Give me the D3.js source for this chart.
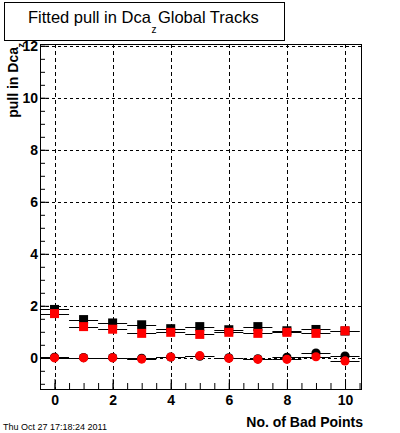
<!DOCTYPE html>
<html>
<head>
<meta charset="utf-8">
<script src="https://cdn.jsdelivr.net/npm/d3@7"></script>
<style>
  body { margin: 0; background: white; }
  svg { display: block; font-family: "Liberation Sans", Arial, sans-serif; }
</style>
</head>
<body>
<div id="canvas"></div>
<script>
"use strict"

// DATA
let badPoints = [0, 1, 2, 3, 4, 5, 6, 7, 8, 9, 10];
let blackSquares = [1.86, 1.47, 1.34, 1.27, 1.12, 1.20, 1.08, 1.20, 1.04, 1.09, 1.03];
let redSquares = [1.70, 1.20, 1.10, 0.94, 0.98, 0.90, 0.98, 0.94, 0.98, 0.94, 1.04];
let blackCircles = [0.02, 0.01, 0.01, -0.02, 0.03, 0.06, 0.00, -0.04, 0.02, 0.18, 0.07];
let redCircles = [0.00, 0.00, 0.00, -0.05, 0.03, 0.08, -0.02, -0.06, -0.06, 0.04, -0.12];
let binHalfWidth = 0.5;

let xMajorTicks = [0, 2, 4, 6, 8, 10];
let yMajorTicks = [0, 2, 4, 6, 8, 10, 12];

let titleMain = "Fitted pull in Dca";
let titleSub = "z";
let titleRest = "Global Tracks";
let yTitle = "pull in Dca";
let yTitleSub = "z";
let xTitle = "No. of Bad Points";
let dateStamp = "Thu Oct 27 17:18:24 2011";

/* drawing config */
let svgWidth = 400;
let svgHeight = 433;
let frameLeft = 40;
let frameRight = 361;
let frameTop = 44;
let frameBottom = 389;

let svg = d3.select("#canvas")
  .append("svg")
  .attr("width", svgWidth)
  .attr("height", svgHeight);

svg.append("rect")
  .attr("width", svgWidth)
  .attr("height", svgHeight)
  .attr("fill", "white");

// scales
let xScale = d3.scaleLinear()
  .domain([-0.5, 10.55])
  .range([frameLeft, frameRight]);

let yScale = d3.scaleLinear()
  .domain([-1.2, 12.07])
  .range([frameBottom, frameTop]);

let xMinor = d3.range(-0.5, 10.51, 0.5);
let yMinor = d3.range(-1, 12.01, 0.5);

// grid
svg.selectAll(".vgrid")
  .data(xMajorTicks)
  .join("line")
  .attr("x1", d => Math.round(xScale(d)) + 0.5)
  .attr("x2", d => Math.round(xScale(d)) + 0.5)
  .attr("y1", frameTop)
  .attr("y2", frameBottom)
  .attr("stroke", "black")
  .attr("stroke-dasharray", "4,3");

svg.selectAll(".hgrid")
  .data(yMajorTicks)
  .join("line")
  .attr("x1", frameLeft)
  .attr("x2", frameRight)
  .attr("y1", d => Math.round(yScale(d)) + 0.5)
  .attr("y2", d => Math.round(yScale(d)) + 0.5)
  .attr("stroke", "black")
  .attr("stroke-dasharray", "3,3");

// axes
svg.append("g")
  .attr("transform", "translate(" + frameLeft + ",0)")
  .call(d3.axisLeft(yScale).tickValues(yMinor).tickSize(-5).tickFormat(""));

svg.append("g")
  .attr("transform", "translate(" + frameLeft + ",0)")
  .call(d3.axisLeft(yScale).tickValues(yMajorTicks).tickSize(-9).tickPadding(2).tickFormat(d3.format("d")));

svg.append("g")
  .attr("transform", "translate(0," + frameBottom + ")")
  .call(d3.axisBottom(xScale).tickValues(xMinor).tickSize(-6).tickFormat(""));

svg.append("g")
  .attr("transform", "translate(0," + frameBottom + ")")
  .call(d3.axisBottom(xScale).tickValues(xMajorTicks).tickSize(-10).tickPadding(6).tickFormat(d3.format("d")));

svg.selectAll(".domain").remove();
svg.selectAll(".tick line").attr("stroke", "black");
svg.selectAll(".tick text")
  .attr("fill", "black")
  .style("font-family", "Liberation Sans, Arial, sans-serif")
  .style("font-weight", "bold")
  .style("font-size", "14px");

// frame
svg.append("rect")
  .attr("x", frameLeft + 0.5)
  .attr("y", frameTop + 0.5)
  .attr("width", frameRight - frameLeft)
  .attr("height", frameBottom - frameTop)
  .attr("fill", "none")
  .attr("stroke", "black");

// series: horizontal bin bars, then markers
let series = [
  { values: blackSquares, color: "black", shape: "square" },
  { values: redSquares, color: "red", shape: "square" },
  { values: blackCircles, color: "black", shape: "circle" },
  { values: redCircles, color: "red", shape: "circle" }
];

let plot = svg.append("g");

series.forEach(function (s) {
  plot.append("g")
    .selectAll("line")
    .data(badPoints)
    .join("line")
    .attr("x1", (d) => xScale(d - binHalfWidth))
    .attr("x2", (d) => Math.min(xScale(d + binHalfWidth), frameRight))
    .attr("y1", (d, i) => Math.round(yScale(s.values[i])) + 0.5)
    .attr("y2", (d, i) => Math.round(yScale(s.values[i])) + 0.5)
    .attr("stroke", "black")
    .attr("stroke-width", 1);
});

series.forEach(function (s) {
  let g = plot.append("g");
  if (s.shape === "square") {
    g.selectAll("rect")
      .data(badPoints)
      .join("rect")
      .attr("x", (d) => xScale(d) - 4.5)
      .attr("y", (d, i) => yScale(s.values[i]) - 4.5)
      .attr("width", 9)
      .attr("height", 9)
      .attr("fill", s.color);
  } else {
    g.selectAll("circle")
      .data(badPoints)
      .join("circle")
      .attr("cx", (d) => xScale(d))
      .attr("cy", (d, i) => yScale(s.values[i]))
      .attr("r", 4.6)
      .attr("fill", s.color);
  }
});

// title box
svg.append("rect")
  .attr("x", 4.5)
  .attr("y", 2.5)
  .attr("width", 280)
  .attr("height", 38)
  .attr("fill", "white")
  .attr("stroke", "black");

let titleX = 28;
let t1 = svg.append("text")
  .attr("x", titleX)
  .attr("y", 23)
  .style("font-size", "16.5px")
  .text(titleMain);
let t1Len = t1.node().getComputedTextLength();

svg.append("text")
  .attr("x", titleX + t1Len + 0.5)
  .attr("y", 33)
  .style("font-size", "10px")
  .text(titleSub);

svg.append("text")
  .attr("x", titleX + t1Len + 7)
  .attr("y", 23)
  .style("font-size", "16.5px")
  .text(titleRest);

// axis titles
svg.append("text")
  .attr("transform", "translate(17.5,47) rotate(-90)")
  .attr("text-anchor", "end")
  .style("font-size", "14px")
  .style("font-weight", "bold")
  .text(yTitle);

svg.append("text")
  .attr("transform", "translate(23.5,47.5) rotate(-90)")
  .style("font-size", "9px")
  .style("font-weight", "bold")
  .text(yTitleSub);

svg.append("text")
  .attr("x", 363)
  .attr("y", 427)
  .attr("text-anchor", "end")
  .style("font-size", "14px")
  .style("font-weight", "bold")
  .text(xTitle);

svg.append("text")
  .attr("x", 3)
  .attr("y", 430)
  .style("font-size", "9px")
  .text(dateStamp);
</script>
</body>
</html>
